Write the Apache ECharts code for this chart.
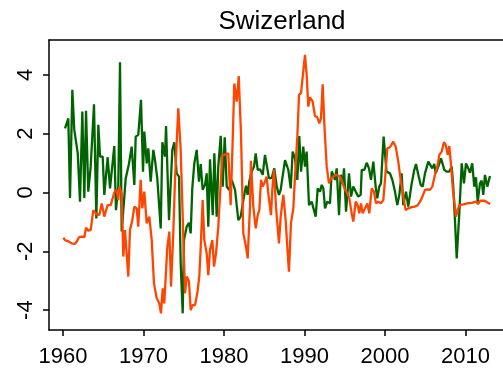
<!DOCTYPE html>
<html>
<head>
<meta charset="utf-8">
<script src="https://cdn.jsdelivr.net/npm/echarts@6/dist/echarts.min.js"></script>
<style>
  html, body { margin: 0; padding: 0; background: #fff; }
  #chart { width: 503px; height: 373px; }
</style>
</head>
<body>
<div id="chart"></div>
<script>
// Swiss quarterly series, dates as decimal years
const greenYears = [
  1960.25, 1960.66, 1960.87, 1961.16, 1961.40, 1961.83, 1962.11, 1962.40, 1962.65, 1962.86,
  1963.14, 1963.44, 1963.85, 1964.14, 1964.39, 1964.60, 1964.93, 1965.13, 1965.55, 1965.84,
  1966.37, 1966.58, 1966.87, 1967.08, 1967.29, 1967.79, 1968.20, 1968.53, 1968.86, 1969.03,
  1969.35, 1969.69, 1969.94, 1970.10, 1970.40, 1970.60, 1970.89, 1971.22, 1971.43, 1971.71,
  1972.14, 1972.34, 1972.67, 1972.80, 1973.17, 1973.58, 1973.83, 1974.12, 1974.41, 1974.62,
  1974.87, 1975.03, 1975.37, 1975.65, 1975.86, 1976.06, 1976.31, 1976.61, 1976.89, 1977.11,
  1977.35, 1977.64, 1977.85, 1978.05, 1978.26, 1978.60, 1978.80, 1979.09, 1979.29, 1979.59,
  1979.84, 1980.09, 1980.34, 1980.62, 1980.96, 1981.37, 1981.78, 1982.07, 1982.48, 1982.73,
  1982.94, 1983.14, 1983.44, 1983.73, 1983.94, 1984.19, 1984.47, 1984.81, 1985.09, 1985.30,
  1985.59, 1985.93, 1986.25, 1986.55, 1986.83, 1987.04, 1987.58, 1987.99, 1988.29, 1988.53,
  1988.82, 1989.11, 1989.35, 1989.57, 1989.85, 1990.06, 1990.27, 1990.56, 1990.89, 1991.09,
  1991.39, 1991.64, 1991.93, 1992.14, 1992.34, 1992.55, 1992.83, 1993.17, 1993.38, 1993.58,
  1993.79, 1994.00, 1994.29, 1994.50, 1994.75, 1994.91, 1995.16, 1995.53, 1995.78, 1996.06,
  1996.36, 1996.68, 1996.98, 1997.11, 1997.43, 1997.73, 1998.01, 1998.26, 1998.55, 1998.84,
  1999.04, 1999.29, 1999.50, 1999.83, 2000.19, 2000.62, 2000.91, 2001.24, 2001.53, 2001.78,
  2002.07, 2002.27, 2002.61, 2002.89, 2003.32, 2003.64, 2003.85, 2004.14, 2004.43, 2004.68,
  2004.97, 2005.38, 2005.59, 2005.88, 2006.12, 2006.30, 2006.62, 2006.96, 2007.12, 2007.37,
  2007.66, 2007.99, 2008.29, 2008.48, 2008.70, 2008.91, 2009.23, 2009.53, 2009.81, 2010.06,
  2010.35, 2010.56, 2010.84, 2011.09, 2011.30, 2011.52, 2011.80, 2012.01, 2012.21, 2012.42,
  2012.71, 2013.04
];
const greenValues = [
  2.18, 2.52, -0.19, 3.49, 2.13, 1.34, -0.31, 2.75, -0.19, 2.78,
  0.03, 0.88, 3.00, -0.88, 2.30, 1.22, 1.22, -0.08, 1.20, 0.14,
  1.58, -0.60, 0.20, 4.43, -1.33, 0.48, 0.99, 1.56, 0.26, 1.90,
  1.96, 3.15, 0.71, 2.07, 0.99, 1.50, 0.37, 1.45, 1.10, 0.48,
  -1.22, 1.71, 1.22, 2.26, -0.94, 1.45, 1.71, 0.65, 0.54, -2.41,
  -4.11, -1.62, -1.16, -1.03, -1.39, 0.14, 0.99, 1.45, 0.37, 0.97,
  0.09, 0.26, 0.65, -1.16, 1.13, -0.77, 1.33, -0.82, 0.88, 1.93,
  0.20, 1.88, 0.20, 0.09, 0.43, 0.09, -0.94, -0.82, -0.14, 0.23,
  -0.08, 0.37, 0.71, 0.88, 1.33, 0.77, 0.79, 0.60, 1.28, 1.33,
  0.48, 0.50, 0.82, 0.20, -0.08, 0.09, 1.10, 0.77, 0.14, 1.39,
  1.16, 0.43, 1.92, 0.71, 1.56, 0.88, 1.39, -0.43, -0.31, -0.26,
  -0.82, 0.14, 0.03, 0.26, 0.14, -0.54, -0.31, -0.37, 0.71, 0.60,
  0.43, 0.82, -0.77, 0.60, 0.31, 0.82, -0.65, 0.65, -0.14, 0.20,
  0.03, -0.14, -0.08, 0.77, 0.77, 1.01, 0.82, 0.43, 1.05, 0.20,
  -0.20, 0.20, 0.31, 1.90, 0.71, 0.65, 0.43, 0.03, -0.43, -0.08,
  0.65, -0.43, 0.03, -0.48, 0.31, 0.77, 0.97, 0.60, 0.26, 0.20,
  0.65, 1.05, 0.99, 0.82, 0.97, 0.65, 0.88, 1.16, 1.22, 0.77,
  0.71, 0.71, 0.88, 0.20, -0.99, -2.24, -0.71, 0.99, 0.31, 0.99,
  0.82, 0.67, 0.99, 0.20, 0.52, -0.31, 0.31, 0.40, -0.08, 0.60,
  0.20, 0.56
];

const orangeYears = [
  1960.04, 1960.25, 1960.46, 1960.75, 1961.08, 1961.49, 1961.70, 1961.99, 1962.32, 1962.65,
  1962.86, 1963.14, 1963.44, 1963.76, 1964.06, 1964.51, 1964.81, 1965.13, 1965.34, 1965.55,
  1965.93, 1966.17, 1966.37, 1966.67, 1966.87, 1966.99, 1967.29, 1967.49, 1967.70, 1968.11,
  1968.32, 1968.61, 1968.86, 1969.16, 1969.35, 1969.65, 1969.85, 1970.10, 1970.40, 1970.72,
  1971.02, 1971.30, 1971.64, 1971.96, 1972.17, 1972.39, 1972.58, 1972.96, 1973.21, 1973.42,
  1973.70, 1973.91, 1974.32, 1974.62, 1974.87, 1975.16, 1975.37, 1975.65, 1975.86, 1976.11,
  1976.40, 1976.68, 1976.93, 1977.11, 1977.35, 1977.55, 1977.85, 1978.05, 1978.26, 1978.55,
  1978.76, 1979.01, 1979.29, 1979.50, 1979.79, 1980.04, 1980.25, 1980.53, 1980.83, 1981.08,
  1981.28, 1981.58, 1981.83, 1982.11, 1982.40, 1982.73, 1982.94, 1983.23, 1983.35, 1983.64,
  1983.94, 1984.19, 1984.39, 1984.60, 1984.81, 1985.09, 1985.30, 1985.50, 1985.84, 1986.00,
  1986.21, 1986.46, 1986.83, 1987.04, 1987.37, 1987.66, 1987.86, 1988.07, 1988.32, 1988.61,
  1988.91, 1989.11, 1989.32, 1989.57, 1989.81, 1990.06, 1990.27, 1990.47, 1990.68, 1991.02,
  1991.30, 1991.59, 1991.84, 1992.05, 1992.26, 1992.46, 1992.76, 1993.04, 1993.29, 1993.58,
  1993.88, 1994.12, 1994.41, 1994.75, 1995.03, 1995.32, 1995.57, 1995.86, 1996.06, 1996.36,
  1996.61, 1996.81, 1997.02, 1997.23, 1997.52, 1997.80, 1998.05, 1998.35, 1998.63, 1998.88,
  1999.17, 1999.47, 1999.79, 2000.00, 2000.29, 2000.62, 2001.03, 2001.33, 2001.65, 2001.95,
  2002.27, 2002.57, 2002.89, 2003.32, 2003.73, 2004.06, 2004.35, 2004.56, 2004.97, 2005.30,
  2005.59, 2005.88, 2006.21, 2006.50, 2006.75, 2007.04, 2007.33, 2007.54, 2007.79, 2007.99,
  2008.20, 2008.41, 2008.61, 2008.82, 2009.03, 2009.23, 2009.73, 2010.22, 2010.77, 2011.30,
  2011.55, 2011.84, 2012.37, 2012.78, 2013.07
];
const orangeValues = [
  -1.54, -1.62, -1.59, -1.67, -1.73, -1.75, -1.67, -1.52, -1.50, -1.52,
  -1.20, -1.30, -1.28, -0.60, -0.71, -0.77, -0.37, -0.82, -0.62, -0.43,
  -0.43, -0.48, 0.00, 0.09, -0.26, 0.20, -0.03, -2.18, -1.28, -2.86,
  -1.28, -0.94, -0.48, -0.54, -1.16, 0.43, -0.54, 0.03, -1.05, -0.82,
  -1.62, -3.09, -3.60, -3.77, -4.11, -3.26, -3.77, -1.85, -1.33, -3.20,
  -1.39, 0.43, 2.86, 1.45, -0.82, -3.43, -2.86, -3.03, -4.00, -3.83,
  -3.83, -3.43, -2.86, -1.84, -0.26, -1.62, -2.07, -2.81, -1.96, -1.62,
  -2.52, -2.07, -1.16, -1.16, 1.28, 1.28, 1.28, 1.33, -0.43, 1.79,
  3.71, 3.09, 3.96, 2.01, -1.39, -1.84, -2.24, -0.48, 1.08, -0.48,
  -1.22, -0.77, -0.60, 0.43, 0.20, 0.37, 0.54, -0.03, -0.77, 0.09,
  0.77, -0.48, -1.73, -0.82, -0.08, -0.94, -1.84, -2.69, -1.05, -0.54,
  0.99, 1.90, 3.32, 3.39, 3.41, 4.68, 4.00, 2.92, 3.24, 3.09,
  2.60, 2.56, 2.35, 2.52, 3.68, 2.35, 0.88, 0.31, 0.48, 0.54,
  0.60, 0.65, 0.54, 0.31, 0.09, -0.03, -0.20, -0.71, -0.99, -0.31,
  -0.43, -0.71, -0.37, -0.71, -0.54, -0.37, -0.71, 0.14, 0.03, -0.37,
  -0.31, -0.37, -0.26, 0.43, 1.50, 1.54, 1.73, 1.56, 1.05, 0.43,
  -0.14, -0.60, -0.54, -0.50, -0.48, -0.43, -0.31, -0.20, 0.09, 0.11,
  0.09, 0.20, 0.60, 0.88, 1.28, 1.39, 1.71, 1.62, 1.28, 1.58,
  0.94, 0.20, -0.31, -0.82, -0.60, -0.43, -0.40, -0.37, -0.35, -0.31,
  -0.39, -0.28, -0.28, -0.35, -0.39
];

const xTickYears = [1960, 1970, 1980, 1990, 2000, 2010];
const yTickValues = [-4, -2, 0, 2, 4];

const pairs = (xs, ys) => xs.map((x, i) => [x, ys[i]]);

const FONT = '"Liberation Sans", Arial, sans-serif';
const X_MIN = 1958.26, X_MAX = 2014.66;
const Y_MIN = -4.677, Y_MAX = 5.187;

const chart = echarts.init(document.getElementById('chart'), null, { renderer: 'canvas' });
chart.setOption({
  animation: false,
  backgroundColor: '#ffffff',
  title: {
    text: 'Swizerland',
    left: 277,
    top: 4,
    textAlign: 'center',
    textStyle: { fontFamily: FONT, fontSize: 26, fontWeight: 'normal', color: '#000' }
  },
  grid: { left: 49, top: 40, right: 0, bottom: 43, containLabel: false },
  xAxis: [
    {
      type: 'value',
      min: X_MIN,
      max: X_MAX,
      position: 'bottom',
      axisLine: { show: true, onZero: false, lineStyle: { color: '#000', width: 1.5 } },
      axisTick: { show: true, length: 6, lineStyle: { color: '#000', width: 1.5 }, customValues: xTickYears },
      axisLabel: { show: true, margin: 16, fontFamily: FONT, fontSize: 22, color: '#000', customValues: xTickYears,
                   formatter: v => String(v) },
      splitLine: { show: false }
    },
    {
      // top frame line
      type: 'value',
      min: X_MIN,
      max: X_MAX,
      position: 'top',
      axisLine: { show: true, onZero: false, lineStyle: { color: '#000', width: 1.5 } },
      axisTick: { show: false },
      axisLabel: { show: false },
      splitLine: { show: false }
    }
  ],
  yAxis: {
    type: 'value',
    min: Y_MIN,
    max: Y_MAX,
    axisLine: { show: true, onZero: false, lineStyle: { color: '#000', width: 1.5 } },
    axisTick: { show: true, length: 6, lineStyle: { color: '#000', width: 1.5 }, customValues: yTickValues },
    axisLabel: { show: true, rotate: 90, margin: 12, fontFamily: FONT, fontSize: 22, color: '#000',
                 customValues: yTickValues, formatter: v => String(v) },
    splitLine: { show: false }
  },
  series: [
    {
      name: 'green',
      type: 'line',
      xAxisIndex: 0,
      data: pairs(greenYears, greenValues),
      showSymbol: false,
      lineStyle: { color: '#006400', width: 2.3 },
      z: 2
    },
    {
      name: 'orange',
      type: 'line',
      xAxisIndex: 0,
      data: pairs(orangeYears, orangeValues),
      showSymbol: false,
      lineStyle: { color: '#ff4500', width: 2.3 },
      z: 3
    }
  ]
});
</script>
</body>
</html>
